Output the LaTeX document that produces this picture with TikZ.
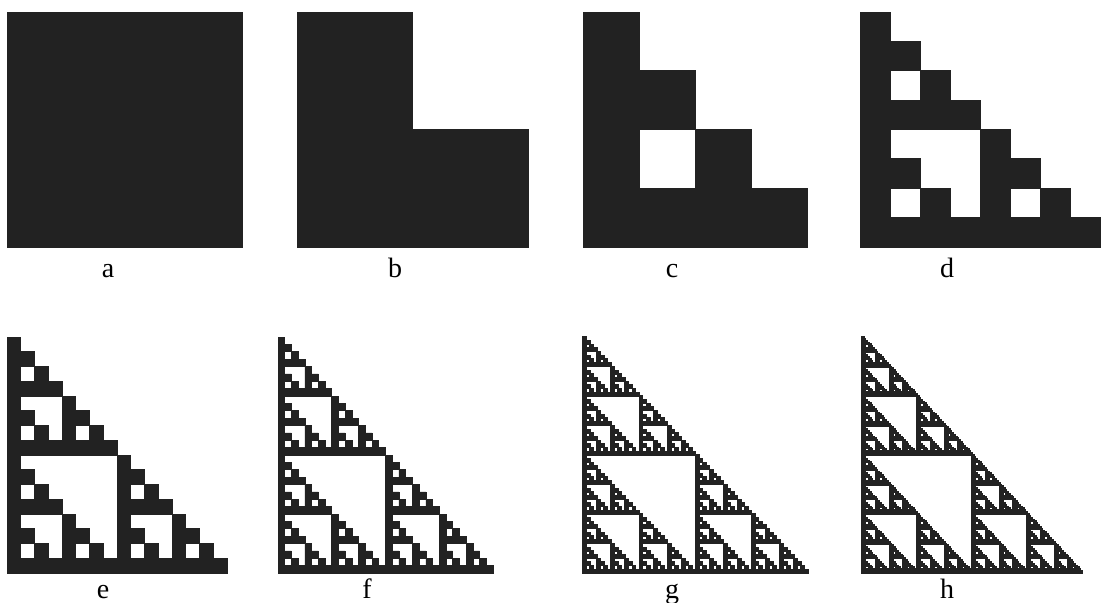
\documentclass[tikz,border=0pt]{standalone}
\usepackage{fontspec}
\setmainfont{Liberation Serif}
\usepackage{tikz}
\definecolor{ink}{HTML}{222222}

% one panel: level, left, top, width, height (y grows downwards)
\newcommand{\sierp}[5]{%
  \ifnum#1=0
    \pgfpathrectangle{\pgfpointxy{#2}{#3}}{\pgfpointxy{#4}{#5}}%
    \let\spNext\relax
  \else
    \pgfmathsetmacro\spW{#4/2}\pgfmathsetmacro\spH{#5/2}%
    \pgfmathsetmacro\spX{#2+\spW}\pgfmathsetmacro\spY{#3+\spH}%
    \pgfmathtruncatemacro\spL{#1-1}%
    \edef\spNext{\noexpand\sierp{\spL}{#2}{#3}{\spW}{\spH}%
      \noexpand\sierp{\spL}{#2}{\spY}{\spW}{\spH}%
      \noexpand\sierp{\spL}{\spX}{\spY}{\spW}{\spH}}%
  \fi
  \spNext}
% optional arg: ink spread (line width) for the fine panels
\newcommand{\panel}[6][0pt]{%
  \begin{scope}
    \pgfsetfillcolor{ink}\pgfsetstrokecolor{ink}
    \pgfsetlinewidth{#1}\pgfsetmiterjoin
    \sierp{#2}{#3}{#4}{#5}{#6}
    \pgfusepath{fill,stroke}
  \end{scope}}

\begin{document}
\begin{tikzpicture}[x=0.5pt,y=-0.5pt,
  lab/.style={anchor=base,inner sep=0pt,font=\fontsize{14}{16}\selectfont}]
  \useasboundingbox (0,0) rectangle (1103,602);
  % top row
  \panel{0}{7}{12}{235}{235}
  \panel{1}{297}{12}{231}{235}
  \panel{2}{583}{12}{224}{235}
  \panel{3}{860}{12}{240}{235}
  % bottom row
  \panel{4}{7}{337}{220}{236}
  \panel[0.3pt]{5}{278}{337}{215}{236}
  \panel[0.7pt]{6}{583}{337}{225}{236}
  \panel[1pt]{7}{862}{337}{220}{236}
  % labels
  \node[lab] (la) at (108,277) {a};
  \node[lab] (lb) at (395,277) {b};
  \node[lab] (lc) at (672,277) {c};
  \node[lab] (ld) at (947,277) {d};
  \node[lab] (le) at (103,598) {e};
  \node[lab] (lf) at (367,598) {f};
  \node[lab] (lg) at (672,598) {g};
  \node[lab] (lh) at (947,598) {h};
\end{tikzpicture}
\end{document}
